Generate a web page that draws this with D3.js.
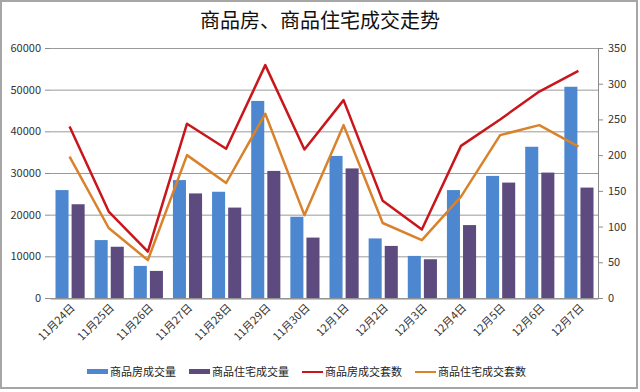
<!DOCTYPE html>
<html>
<head>
<meta charset="utf-8">
<script src="https://cdn.jsdelivr.net/npm/d3@7"></script>
<style>
    body { margin: 0; background: #fff; }
    svg { display: block; }
</style>
</head>
<body>
<div id="chart"></div>
<script>
// categories and series
const dates = ["11月24日", "11月25日", "11月26日", "11月27日", "11月28日", "11月29日", "11月30日",
    "12月1日", "12月2日", "12月3日", "12月4日", "12月5日", "12月6日", "12月7日"];
const houseArea = [25900, 13900, 7700, 28300, 25500, 47300, 19500, 34100, 14300, 10100, 25900, 29300, 36300, 50700];
const residArea = [22500, 12300, 6500, 25100, 21700, 30500, 14500, 31100, 12500, 9300, 17500, 27700, 30100, 26500];
const houseSets = [240, 121, 65, 244, 209, 326, 208, 277, 136, 96, 213, 250, 289, 318];
const residSets = [198, 98, 53, 200, 161, 258, 116, 242, 105, 81, 142, 228, 242, 212];
const leftTicks = [0, 10000, 20000, 30000, 40000, 50000, 60000];
const rightTicks = [0, 50, 100, 150, 200, 250, 300, 350];
const seriesNames = ["商品房成交量", "商品住宅成交量", "商品房成交套数", "商品住宅成交套数"];

const width = 640, height = 392;
const margin = {top: 48, right: 42, bottom: 94, left: 50};
const font = "'Noto Sans CJK SC', 'Noto Sans', sans-serif";
const colors = {blue: "#4c87cf", purple: "#5d4a7e", red: "#c9161c", orange: "#d9822b"};

const svg = d3.select("#chart").append("svg")
    .attr("width", width)
    .attr("height", height);

// outer frame
svg.append("rect")
    .attr("x", 1).attr("y", 1)
    .attr("width", width - 4).attr("height", height - 5)
    .attr("fill", "none")
    .attr("stroke", "#a6a6a6")
    .attr("stroke-width", 2);

svg.append("text")
    .attr("x", 320)
    .attr("y", 28)
    .attr("text-anchor", "middle")
    .attr("font-family", font)
    .attr("font-size", 20)
    .attr("fill", "#111")
    .text("商品房、商品住宅成交走势");

const x = d3.scaleBand(dates, [margin.left, width - margin.right]).padding(0);
const x1 = d3.scaleBand(["a", "b"], [5.5, x.bandwidth() - 4.5]).paddingInner(0.19);
const yL = d3.scaleLinear([0, 60000], [height - margin.bottom, margin.top]);
const yR = d3.scaleLinear([0, 350], [height - margin.bottom, margin.top]);

// grid lines
svg.append("g")
    .selectAll("line")
    .data(leftTicks)
    .join("line")
    .attr("x1", margin.left)
    .attr("x2", width - margin.right)
    .attr("y1", d => yL(d) + 0.5)
    .attr("y2", d => yL(d) + 0.5)
    .style("stroke", "#9a9a9a")
    .style("stroke-width", 1);

// bars
const bars = svg.append("g");
bars.selectAll("rect.house")
    .data(houseArea)
    .join("rect")
    .attr("class", "house")
    .attr("x", (d, i) => x(dates[i]) + x1("a"))
    .attr("width", x1.bandwidth())
    .attr("y", d => yL(d))
    .attr("height", d => yL(0) - yL(d))
    .attr("fill", colors.blue);
bars.selectAll("rect.resid")
    .data(residArea)
    .join("rect")
    .attr("class", "resid")
    .attr("x", (d, i) => x(dates[i]) + x1("b"))
    .attr("width", x1.bandwidth())
    .attr("y", d => yL(d))
    .attr("height", d => yL(0) - yL(d))
    .attr("fill", colors.purple);

// lines on right axis
const line = d3.line()
    .x((d, i) => x(dates[i]) + x.bandwidth() / 2)
    .y(d => yR(d));
svg.append("path")
    .attr("d", line(residSets))
    .style("fill", "none")
    .style("stroke", colors.orange)
    .style("stroke-width", 2.5)
    .style("stroke-linejoin", "round");
svg.append("path")
    .attr("d", line(houseSets))
    .style("fill", "none")
    .style("stroke", colors.red)
    .style("stroke-width", 2.5)
    .style("stroke-linejoin", "round");

// axes
const styleAxis = g => {
    g.selectAll("line, path").attr("stroke", "#8c8c8c");
    g.selectAll("text").attr("font-family", font).attr("font-size", 11).attr("fill", "#333");
};

svg.append("g")
    .attr("transform", `translate(${margin.left},0)`)
    .call(d3.axisLeft(yL).tickValues(leftTicks).tickSize(5).tickPadding(4).tickFormat(d3.format("d")))
    .call(g => g.select(".domain").remove())
    .call(styleAxis);

svg.append("g")
    .attr("transform", `translate(${width - margin.right},0)`)
    .call(d3.axisRight(yR).tickValues(rightTicks).tickSize(5).tickPadding(5).tickSizeOuter(0))
    .call(styleAxis);

svg.append("g")
    .attr("transform", `translate(0,${height - margin.bottom + 0.5})`)
    .call(d3.axisBottom(x).tickSize(0).tickSizeOuter(0).tickPadding(0))
    .call(styleAxis)
    .call(g => g.selectAll("text")
        .attr("text-anchor", "end")
        .attr("dy", 0)
        .attr("transform", "translate(6,10) rotate(-45)"));

// legend
const legend = svg.append("g").attr("transform", "translate(0,372)");
const legendX = [87, 189, 302, 415];
const legendItems = legend.selectAll("g")
    .data(seriesNames)
    .join("g")
    .attr("transform", (d, i) => `translate(${legendX[i]},0)`);
legendItems.filter((d, i) => i < 2)
    .append("rect")
    .attr("y", -3)
    .attr("width", 21)
    .attr("height", 5)
    .attr("fill", (d, i) => i === 0 ? colors.blue : colors.purple);
legendItems.filter((d, i) => i >= 2)
    .append("line")
    .attr("x2", 21)
    .attr("stroke", (d, i) => i === 0 ? colors.red : colors.orange)
    .attr("stroke-width", 2);
legendItems.append("text")
    .attr("x", 23)
    .attr("dy", "0.35em")
    .attr("font-family", font)
    .attr("font-size", 11)
    .attr("fill", "#222")
    .text(d => d);
</script>
</body>
</html>
